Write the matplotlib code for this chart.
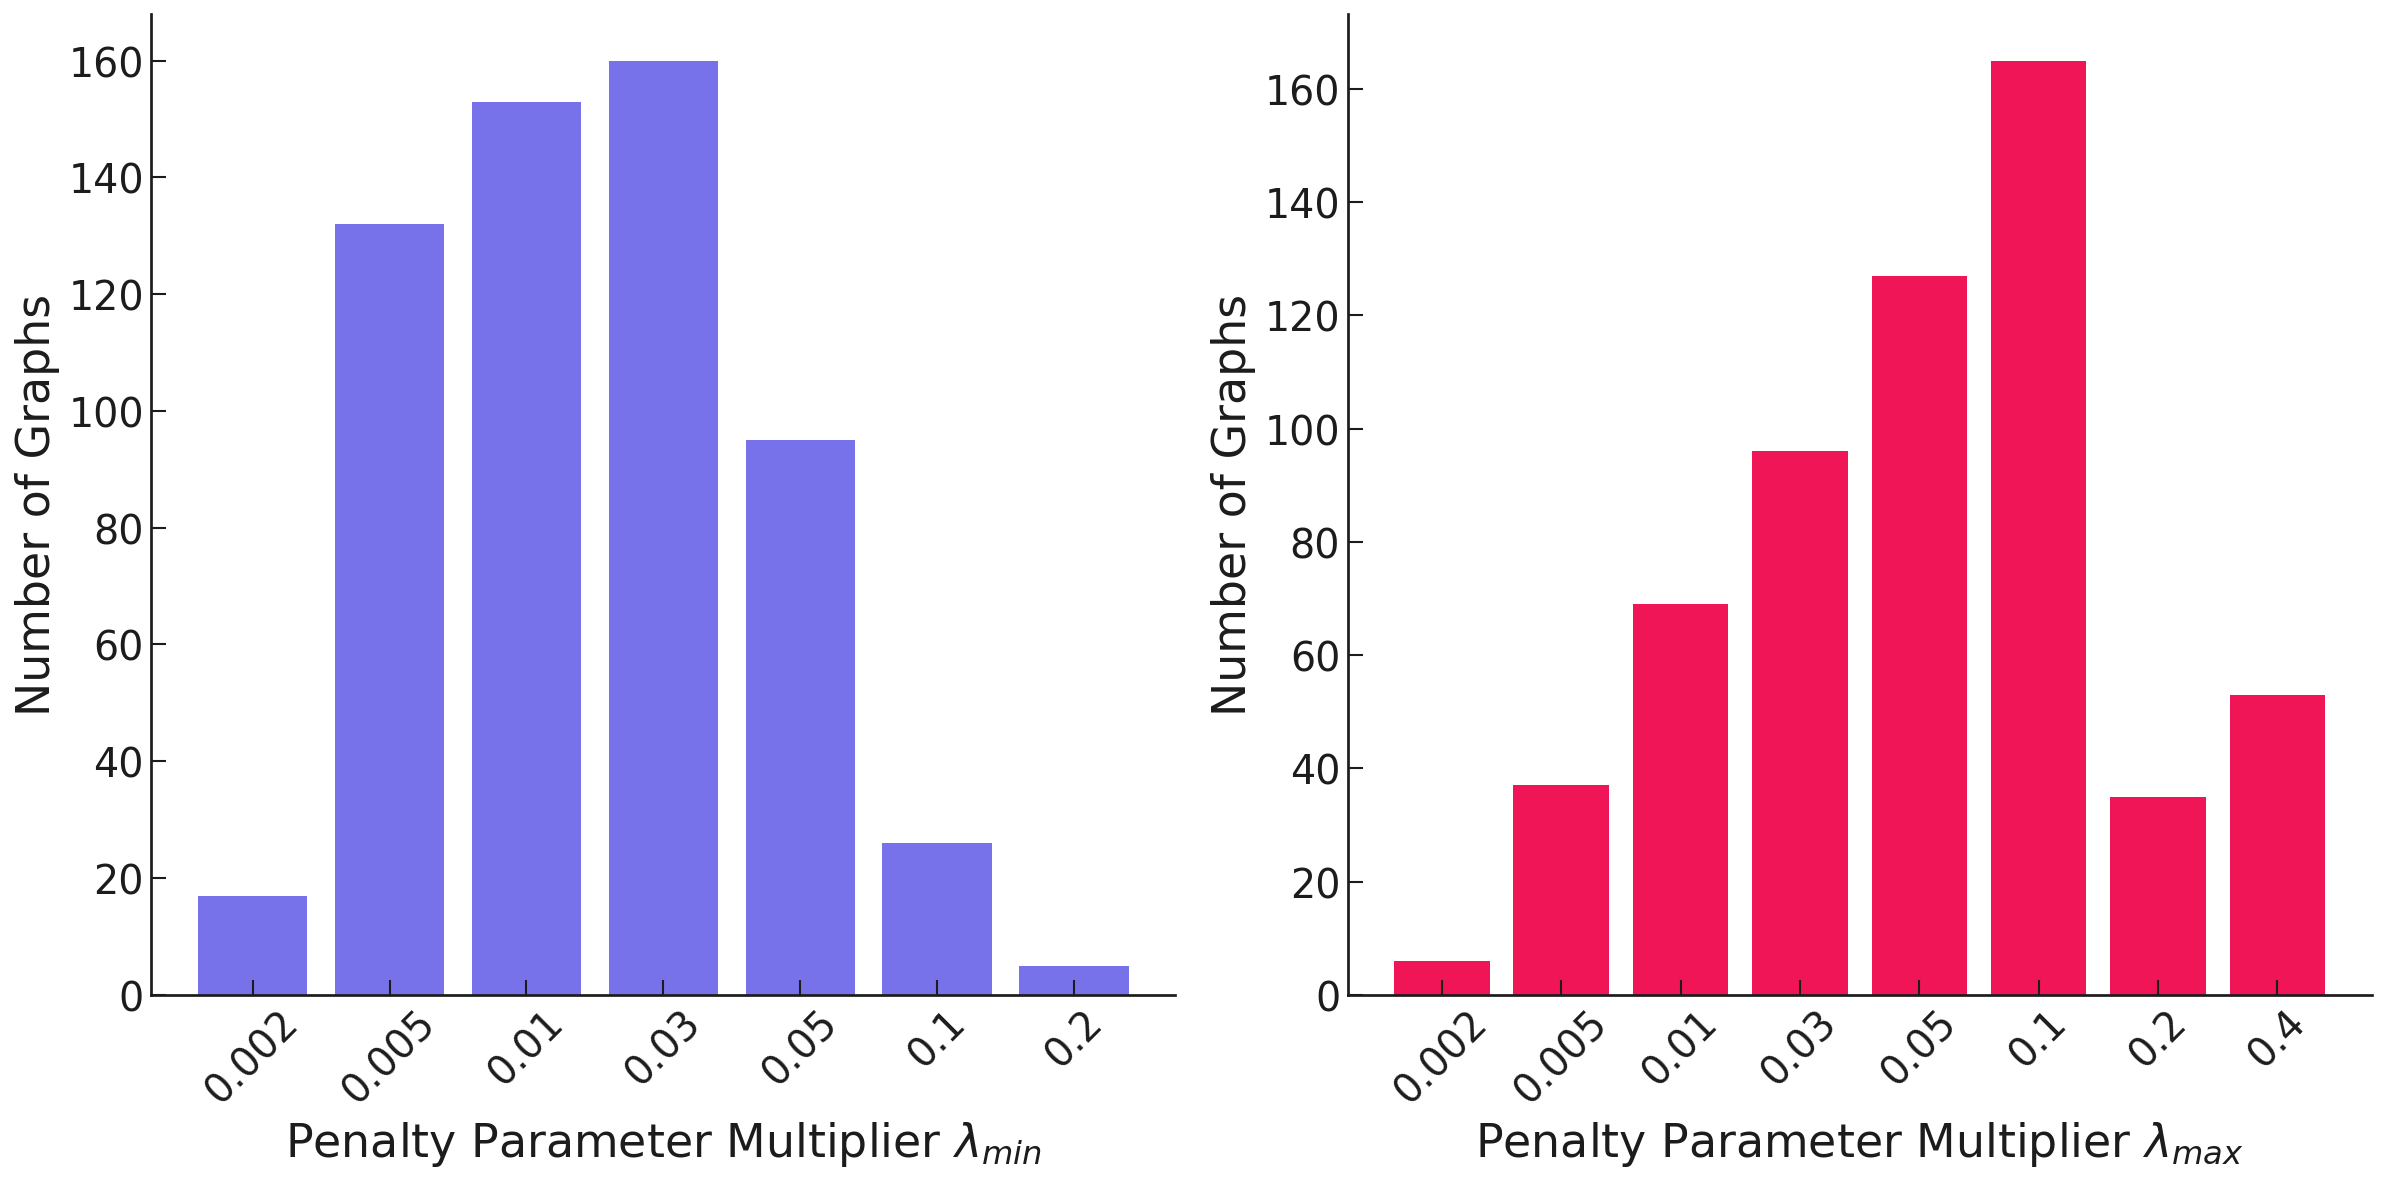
import numpy as np
import matplotlib
matplotlib.use("Agg")
import matplotlib.pyplot as plt

# penalty multipliers and counts
lam_min_labels = ["0.002", "0.005", "0.01", "0.03", "0.05", "0.1", "0.2"]
lam_min_counts = [17, 132, 153, 160, 95, 26, 5]

lam_max_labels = ["0.002", "0.005", "0.01", "0.03", "0.05", "0.1", "0.2", "0.4"]
lam_max_counts = [6, 37, 69, 96, 127, 165, 35, 53]

txt = "#1c1c1c"


def bar_panel(ax, labels, counts, color, sub):
    x = np.arange(len(labels))
    ax.bar(x, counts, color=color, width=0.8)
    ax.set_xticks(x)
    ax.set_xticklabels(labels, rotation=45)
    ax.tick_params(direction="in", labelsize=19, length=7, width=1,
                   colors=txt, labelcolor=txt)
    ax.set_xlabel(r"Penalty Parameter Multiplier $\lambda_{%s}$" % sub,
                  fontsize=22, color=txt)
    ax.set_ylabel("Number of Graphs", fontsize=22, color=txt)
    ax.spines["top"].set_visible(False)
    ax.spines["right"].set_visible(False)
    for s in ["left", "bottom"]:
        ax.spines[s].set_linewidth(1.3)
        ax.spines[s].set_color(txt)


fig, (ax1, ax2) = plt.subplots(1, 2, figsize=(16, 8))

bar_panel(ax1, lam_min_labels, lam_min_counts, "#7772EA", "min")
bar_panel(ax2, lam_max_labels, lam_max_counts, "#EF1556", "max")

plt.tight_layout(w_pad=1.8)
plt.savefig("out.png", dpi=150, bbox_inches="tight")
